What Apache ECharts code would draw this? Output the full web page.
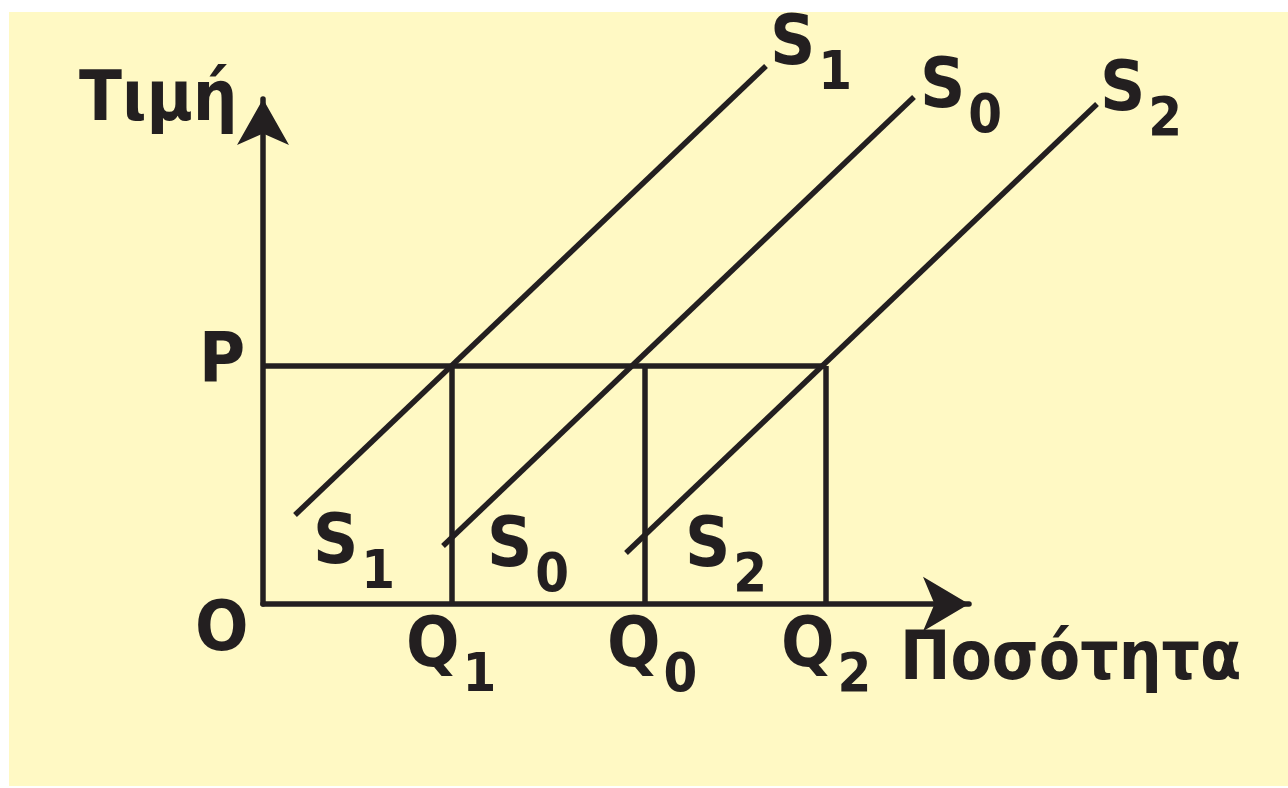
<!DOCTYPE html>
<html><head><meta charset="utf-8">
<script src="https://cdn.jsdelivr.net/npm/echarts@6/dist/echarts.min.js"></script>
<style>html,body{margin:0;padding:0;background:#fff}#c{width:1288px;height:788px}</style>
</head><body><div id="c"></div>
<script>
// Supply curves (arbitrary units; origin at O)
const supplyNames = ['S1', 'S0', 'S2'];
const supplyStartX = [3.2, 18.0, 36.3];
const supplyStartY = [8.9, 5.8, 5.1];
const supplyEndX = [50.3, 65.1, 83.4];
const supplyEndY = [53.8, 50.7, 50.0];
// Price level and quantities
const priceP = 23.8;
const quantityNames = ['Q1', 'Q0', 'Q2'];
const quantityX = [18.9, 38.2, 56.3];
// Text labels
const labelMain = ['Τιμή', 'P', 'O', 'Ποσότητα', 'S', 'S', 'S', 'S', 'S', 'S', 'Q', 'Q', 'Q'];
const labelSub  = ['', '', '', '', '1', '0', '2', '1', '0', '2', '1', '0', '2'];
const labelX    = [-18.4, -6.4, -6.8, 63.7, 50.7, 65.7, 83.7, 5.0, 22.4, 42.2, 14.3, 34.4, 51.8];
const labelY    = [50.2, 24.0, -2.8, -5.8, 55.8, 51.5, 51.2, 5.9, 5.6, 5.6, -4.4, -4.4, -4.4];

const INK = '#231f20';
const FONT = '"DejaVu Sans Condensed", "DejaVu Sans", sans-serif';
const onMarks = { xAxisIndex: 1, yAxisIndex: 1 };

const series = [];
supplyNames.forEach((n, i) => {
  series.push(Object.assign({
    name: n, type: 'line', clip: false, showSymbol: false, silent: true,
    lineStyle: { color: INK, width: 5.5 },
    data: [[supplyStartX[i], supplyStartY[i]], [supplyEndX[i], supplyEndY[i]]]
  }, onMarks));
});
series.push(Object.assign({
  name: 'P', type: 'line', clip: false, showSymbol: false, silent: true,
  lineStyle: { color: INK, width: 5.5 },
  data: [[0, priceP], [Math.max(...quantityX), priceP]]
}, onMarks));
quantityNames.forEach((n, i) => {
  series.push(Object.assign({
    name: n, type: 'line', clip: false, showSymbol: false, silent: true,
    lineStyle: { color: INK, width: 5.5 },
    data: [[quantityX[i], 0], [quantityX[i], priceP]]
  }, onMarks));
});
series.push(Object.assign({
  name: 'labels', type: 'scatter', clip: false, symbolSize: 0, silent: true,
  itemStyle: { opacity: 1 },
  data: labelMain.map((m, i) => ({ value: [labelX[i], labelY[i]], main: m, sub: labelSub[i] })),
  label: {
    show: true, position: 'right', distance: 0, opacity: 1,
    formatter: p => p.data.sub ? `{m|${p.data.main}}{s|${p.data.sub}}` : (p.data.main.length > 4 ? `{w|${p.data.main}}` : `{m|${p.data.main}}`),
    rich: {
      m: { fontSize: 70, fontWeight: 'bold', fontFamily: FONT, color: INK },
      w: { fontSize: 67, fontWeight: 'bold', fontFamily: FONT, color: INK },
      s: { fontSize: 54, fontWeight: 'bold', fontFamily: FONT, color: INK, padding: [58, 0, 0, 3] }
    }
  }
}, onMarks));

const hiddenAxis = { show: false, type: 'value', min: 0 };
const chart = echarts.init(document.getElementById('c'), null, { renderer: 'canvas' });
chart.setOption({
  animation: false,
  backgroundColor: '#ffffff',
  graphic: [{ type: 'rect', z: -10, silent: true, shape: { x: 9, y: 12, width: 1279, height: 774 }, style: { fill: '#fff9c4' } }],
  grid: [
    { left: 263, top: 99, width: 706, height: 505, containLabel: false, outerBoundsMode: 'none' },
    { left: 263, top: 99, width: 900, height: 505, containLabel: false, outerBoundsMode: 'none' }
  ],
  xAxis: [{
    gridIndex: 0, type: 'value', min: 0, max: 70.6,
    axisLine: { show: true, symbol: ['none', 'arrow'], symbolSize: [41, 46], lineStyle: { color: INK, width: 5.5 } },
    axisTick: { show: false }, axisLabel: { show: false }, splitLine: { show: false }
  }, Object.assign({ gridIndex: 1, max: 90 }, hiddenAxis)],
  yAxis: [{
    gridIndex: 0, type: 'value', min: 0, max: 50.5,
    axisLine: { show: true, symbol: ['none', 'arrow'], symbolSize: [39, 46], lineStyle: { color: INK, width: 5.5 } },
    axisTick: { show: false }, axisLabel: { show: false }, splitLine: { show: false }
  }, Object.assign({ gridIndex: 1, max: 50.5 }, hiddenAxis)],
  series: series
});
</script></body></html>
